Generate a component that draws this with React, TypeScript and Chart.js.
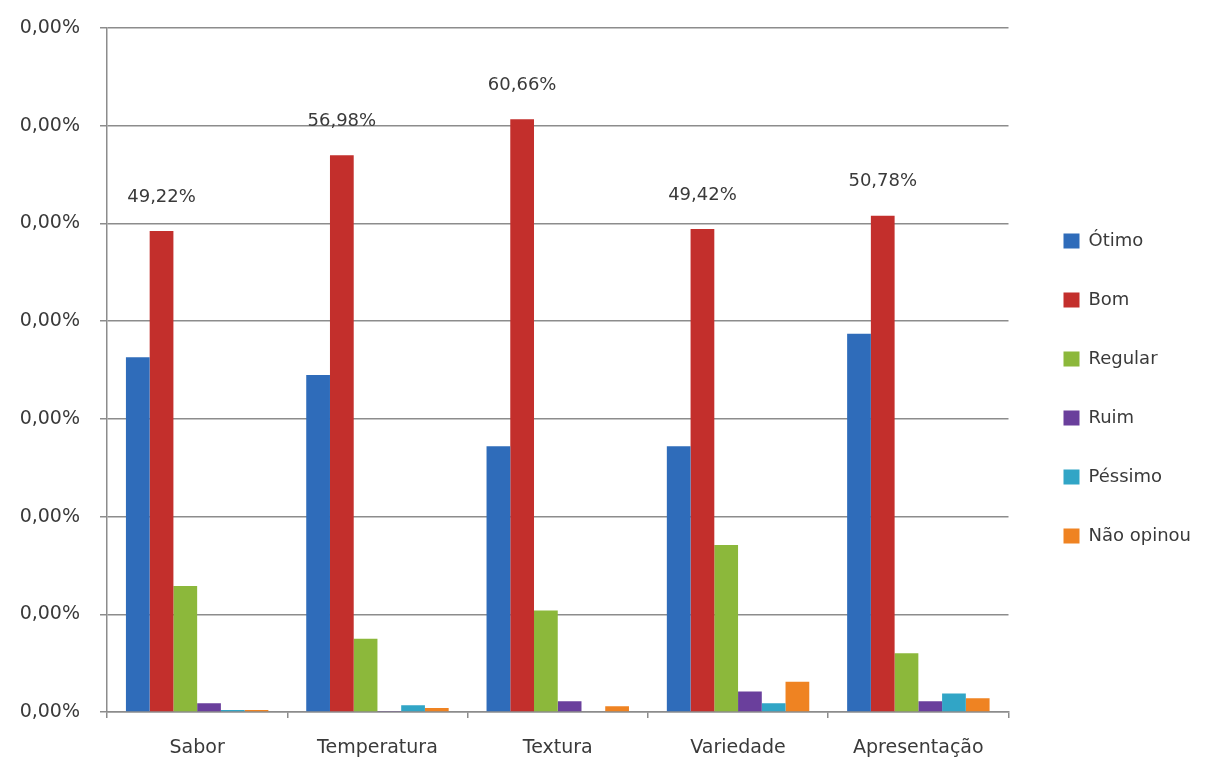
import React, { useEffect, useRef } from "react";
import { Chart, registerables } from "chart.js";

Chart.register(...registerables);

const categories = ["Sabor", "Temperatura", "Textura", "Variedade", "Apresentação"];
const seriesNames = ["Ótimo", "Bom", "Regular", "Ruim", "Péssimo", "Não opinou"];
const otimo = [36.3, 34.5, 27.2, 27.2, 38.7];
const bom = [49.22, 56.98, 60.66, 49.42, 50.78];
const regular = [12.9, 7.5, 10.4, 17.1, 6.0];
const ruim = [0.9, 0.1, 1.1, 2.1, 1.1];
const pessimo = [0.2, 0.7, 0.0, 0.9, 1.9];
const naoOpinou = [0.2, 0.4, 0.6, 3.1, 1.4];
const seriesColors = ["#2F6CBA", "#C32F2C", "#8CB83B", "#6A3F9C", "#31A5C6", "#EF8322"];
const yTickLabel = "0,00%";
const labeledSeriesIndex = 1;

const FONT = "'DejaVu Sans', sans-serif";
const TEXT = "#3a3a3a";
const GRID = "#8c8c8c";

const fmt = (v: number) => v.toFixed(2).replace(".", ",") + "%";

const valueLabels = {
  id: "valueLabels",
  afterDatasetsDraw(chart: any) {
    const ctx = chart.ctx;
    const meta = chart.getDatasetMeta(labeledSeriesIndex);
    const data = chart.data.datasets[labeledSeriesIndex].data;
    ctx.save();
    ctx.font = `18px ${FONT}`;
    ctx.fillStyle = TEXT;
    ctx.textAlign = "center";
    ctx.textBaseline = "middle";
    meta.data.forEach((bar: any, i: number) => {
      ctx.fillText(fmt(data[i]), bar.x, bar.y - 34);
    });
    ctx.restore();
  },
};

// nudge the legend column up a little so it is centred like the original
const legendNudge = {
  id: "legendNudge",
  afterLayout(chart: any) {
    if (chart.legend) chart.legend.bottom -= 16;
  },
};

export default function App() {
  const ref = useRef<HTMLCanvasElement>(null);
  useEffect(() => {
    const all = [otimo, bom, regular, ruim, pessimo, naoOpinou];
    const chart = new Chart(ref.current!, {
      type: "bar",
      data: {
        labels: categories,
        datasets: all.map((d, i) => ({
          label: seriesNames[i],
          data: d,
          backgroundColor: seriesColors[i],
          borderWidth: 0,
          categoryPercentage: 0.79,
          barPercentage: 1,
        })),
      },
      options: {
        responsive: false,
        animation: false,
        layout: { padding: { top: 28, bottom: 0, left: 0, right: 29 } },
        plugins: {
          tooltip: { enabled: false },
          legend: {
            position: "right",
            labels: {
              boxWidth: 16,
              boxHeight: 15,
              padding: 41,
              color: TEXT,
              font: { family: FONT, size: 18 },
            },
          },
        },
        scales: {
          x: {
            grid: { drawOnChartArea: false, drawTicks: true, tickLength: 6, color: GRID, lineWidth: 1.5, offset: true },
            border: { display: true, color: GRID, width: 1.5 },
            ticks: { color: TEXT, font: { family: FONT, size: 19 }, padding: 19, maxRotation: 0 },
            afterFit: (s: any) => { s.height = 53; },
          },
          y: {
            min: 0,
            max: 70,
            ticks: { stepSize: 10, color: TEXT, font: { family: FONT, size: 19 }, padding: 20, callback: () => yTickLabel },
            grid: { color: GRID, lineWidth: 1.5, tickLength: 7, drawTicks: true },
            border: { display: true, color: GRID, width: 1.5 },
            afterFit: (s: any) => {
              s.width = 107;
              s.paddingTop = 12;
              s.paddingBottom = 12;
            },
          },
          y2: {
            position: "right",
            display: true,
            grid: { display: false },
            border: { display: false },
            ticks: { display: false },
            afterFit: (s: any) => { s.width = 14; },
          },
        },
      },
      plugins: [valueLabels, legendNudge],
    } as any);
    return () => chart.destroy();
  }, []);
  return (
    <div style={{ position: "absolute", left: 0, top: 0, width: 1230, height: 765, background: "#fff" }}>
      <canvas ref={ref} width={1230} height={765} style={{ display: "block" }} />
    </div>
  );
}
